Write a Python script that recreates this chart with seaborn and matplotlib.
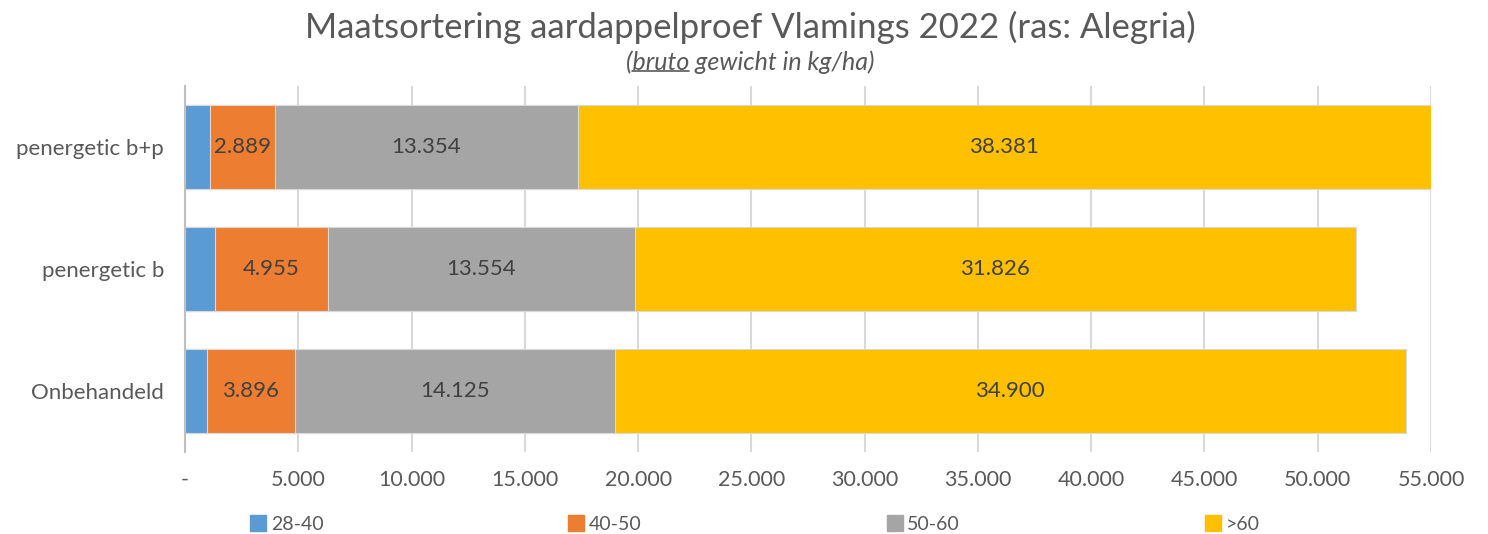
import numpy as np
import pandas as pd
import matplotlib
matplotlib.use('Agg')
import matplotlib.pyplot as plt
from matplotlib.lines import Line2D
import seaborn as sns

# ---- data (kg/ha, bruto) ----
behandelingen = ['penergetic b+p', 'penergetic b', 'Onbehandeld']
maat_28_40 = [1090, 1340, 960]
maat_40_50 = [2889, 4955, 3896]
maat_50_60 = [13354, 13554, 14125]
maat_60_plus = [38381, 31826, 34900]
klassen = ['28-40', '40-50', '50-60', '>60']
x_ticks = [0, 5000, 10000, 15000, 20000, 25000, 30000, 35000, 40000, 45000, 50000, 55000]

kleuren = ['#5B9BD5', '#ED7D31', '#A5A5A5', '#FFC000']
tekst_grijs = '#595959'

sns.set_style('white')
plt.rcParams['font.family'] = ['Lato', 'DejaVu Sans']

df = pd.DataFrame({'behandeling': behandelingen,
                   '28-40': maat_28_40, '40-50': maat_40_50,
                   '50-60': maat_50_60, '>60': maat_60_plus})
cum = df[klassen].cumsum(axis=1)

fig = plt.figure(figsize=(14.88, 5.34), dpi=100)
ax = fig.add_axes([185 / 1488, 1 - 451.7 / 534, (1431 - 185) / 1488, (451.7 - 85.7) / 534])

# stacked bars: draw cumulative totals, largest first
for k, c in reversed(list(zip(klassen, kleuren))):
    sns.barplot(x=cum[k], y=df['behandeling'], order=behandelingen, color=c,
                saturation=1, width=0.69, edgecolor='#d9d9d9', linewidth=0.8,
                ax=ax, zorder=2)

xmax = x_ticks[-1]
ax.set_xlim(0, xmax)
ax.set_xticks(x_ticks)
ax.set_xticklabels(['-'] + [f'{v:,}'.replace(',', '.') for v in x_ticks[1:]])
ax.set_xlabel('')
ax.set_ylabel('')

# data labels (not for 28-40), centred in the visible part of each segment
for i, b in enumerate(behandelingen):
    for k in klassen[1:]:
        eind = cum.loc[i, k]
        start = eind - df.loc[i, k]
        midden = (start + min(eind, xmax)) / 2
        ax.text(midden, i, f'{df.loc[i, k]:,}'.replace(',', '.'), ha='center', va='center',
                fontsize=16, color='#404040', zorder=3)

ax.grid(axis='x', color='#d9d9d9', linewidth=1.5, zorder=0)
ax.grid(axis='y', visible=False)
ax.set_axisbelow(True)
for s in ['top', 'right', 'bottom']:
    ax.spines[s].set_visible(False)
ax.spines['left'].set_color('#bfbfbf')
ax.spines['left'].set_linewidth(1.5)
ax.tick_params(axis='x', length=0, pad=13, labelsize=15.5, labelcolor=tekst_grijs)
ax.tick_params(axis='y', length=0, pad=15, labelsize=16, labelcolor=tekst_grijs)
ax.patch.set_alpha(0)

# legend
handles = [Line2D([], [], marker='s', linestyle='none', markersize=11,
                  markerfacecolor=c, markeredgecolor=c) for c in kleuren]
fig.legend(handles, klassen, loc='center', bbox_to_anchor=(755 / 1488, 1 - 524 / 534),
           ncol=4, frameon=False, fontsize=14, labelcolor=tekst_grijs,
           handlelength=0.8, handletextpad=0.25, columnspacing=12.6,
           borderpad=0, borderaxespad=0)

# titles
fig.text(750 / 1488, 1 - 27 / 534, 'Maatsortering aardappelproef Vlamings 2022 (ras: Alegria)',
         ha='center', va='center', fontsize=25, color=tekst_grijs)
sub = fig.text(750 / 1488, 1 - 62 / 534, '(bruto gewicht in kg/ha)', ha='center', va='center',
               fontsize=18, style='italic', color=tekst_grijs)

# underline "bruto"
fig.canvas.draw()
r = fig.canvas.get_renderer()
bb = sub.get_window_extent(r)
probe = fig.text(0, 0, '(', fontsize=18, style='italic')
w1 = probe.get_window_extent(r).width
probe.set_text('(bruto')
w2 = probe.get_window_extent(r).width
probe.remove()
W, H = fig.bbox.width, fig.bbox.height
yl = bb.y0 + 3
fig.add_artist(Line2D([(bb.x0 + w1) / W, (bb.x0 + w2) / W], [yl / H, yl / H],
                      color=tekst_grijs, linewidth=1.2, transform=fig.transFigure))

fig.savefig('out.png', dpi=100)
